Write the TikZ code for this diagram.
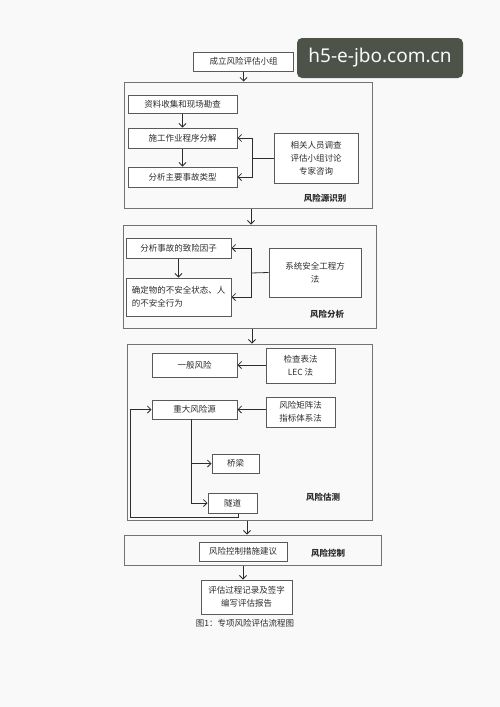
\documentclass[tikz,border=0pt]{standalone}
\usepackage{fontspec}
\setmainfont{Noto Sans CJK SC}
\newfontfamily\wmfont{Noto Sans}
\usetikzlibrary{arrows.meta, positioning, calc}
\definecolor{paper}{RGB}{249, 249, 250}
\definecolor{edge}{RGB}{90, 90, 90}
\definecolor{ink}{RGB}{45, 45, 45}
\definecolor{mark}{RGB}{78, 83, 74}
\tikzset{
    box/.style={rectangle, draw=edge, line width=1pt, fill=white, align=center, text=ink, font=\fontsize{8.5}{13}\selectfont, inner sep=2pt},
    stage/.style={rectangle, draw=edge!85, line width=1pt},
    tag/.style={font=\fontsize{8.5}{10}\selectfont\bfseries, text=ink},
    arr/.style={-{Straight Barb[length=3.5pt, width=7pt]}, line width=0.8pt, ink},
    link/.style={line width=0.8pt, ink}
}

\begin{document}
\begin{tikzpicture}[x=1pt, y=-1pt]
        \useasboundingbox[fill=paper] (0,0) rectangle (500,707);

        \node[stage, minimum width=248, minimum height=126] (riskid) at (248,145) {};
        \node[stage, minimum width=253, minimum height=103] (riskan) at (249.5,276.5) {};
        \node[stage, minimum width=245, minimum height=176] (riskes) at (249.5,432) {};
        \node[stage, minimum width=257, minimum height=30] (riskct) at (252.5,550) {};

        \node[box, minimum width=100, minimum height=19] (team) at (243.5,61.5) {成立风险评估小组};

        \node[box, minimum width=109, minimum height=18] (collect) at (182.5,104) {资料收集和现场勘查};
        \node[box, minimum width=109, minimum height=20] (split) at (182.5,138) {施工作业程序分解};
        \node[box, minimum width=109, minimum height=20] (types) at (182.5,177) {分析主要事故类型};
        \node[box, minimum width=84, minimum height=50] (survey) at (316,158) {相关人员调查\\评估小组讨论\\专家咨询};
        \node[tag] (idtag) at (325,198) {风险源识别};

        \node[box, minimum width=105, minimum height=20] (factor) at (178.5,248) {分析事故的致险因子};
        \node[box, minimum width=105, minimum height=38, align=left] (unsafe) at (178.5,297) {确定物的不安全状态、人\\的不安全行为};
        \node[box, minimum width=92, minimum height=49] (syseng) at (315,272.5) {系统安全工程方\\法};
        \node[tag] (antag) at (327,314) {风险分析};

        \node[box, minimum width=85, minimum height=24] (normal) at (194.5,365) {一般风险};
        \node[box, minimum width=69, minimum height=35] (lec) at (300.5,365.5) {检查表法\\LEC 法};
        \node[box, minimum width=85, minimum height=19] (major) at (194.5,409.5) {重大风险源};
        \node[box, minimum width=69, minimum height=30] (matrix) at (300.5,412) {风险矩阵法\\指标体系法};
        \node[box, minimum width=47, minimum height=19] (bridge) at (235.5,463.5) {桥梁};
        \node[box, minimum width=49, minimum height=20] (tunnel) at (232.5,503) {隧道};
        \node[tag] (estag) at (323,497) {风险估测};

        \node[box, minimum width=88, minimum height=19] (measure) at (243,551.5) {风险控制措施建议};
        \node[tag] (cttag) at (328,553) {风险控制};

        \node[box, minimum width=91, minimum height=34] (report) at (246.5,597) {评估过程记录及签字\\编写评估报告};
        \node[text=ink, font=\fontsize{8.5}{10}\selectfont] (caption) at (245,623) {图1：专项风险评估流程图};

        \node[rectangle, rounded corners=5pt, fill=mark, minimum width=166, minimum height=40, text=paper, font=\wmfont\fontsize{19}{22}\selectfont] (wmark) at (380,58) {h5-e-jbo.com.cn};

        \coordinate (fork1) at (252,158);
        \coordinate (fork2) at (251,273);
        \coordinate (trunk) at (191,419);

        \draw[arr] (team.south) -- (team.south |- riskid.north);
        \draw[arr] (collect) -- (split);
        \draw[arr] (split) -- (types);
        \draw[link] (survey.west) -- (fork1);
        \draw[arr] (fork1) |- (split.east);
        \draw[arr] (fork1) |- (types.east);
        \draw[arr] ([xshift=3]riskid.south) -- ([xshift=3]riskid.south |- riskan.north);

        \draw[arr] (factor) -- (factor |- unsafe.north);
        \draw[link] (syseng.west) -- (fork2);
        \draw[arr] (fork2) |- (factor.east);
        \draw[arr] (fork2) |- (unsafe.east);
        \draw[arr] ([xshift=2.5]riskan.south) -- ([xshift=2.5]riskan.south |- riskes.north);

        \draw[arr] (lec.west |- normal) -- (normal.east);
        \draw[arr] (matrix.west |- major) -- (major.east);
        \draw[arr] (trunk) |- (bridge.west);
        \draw[arr] (trunk) |- (tunnel.west);
        \draw[arr] ([xshift=5.5]tunnel.south) -- ++(0,4) -| ([xshift=-21]major.west) -- (major.west);
        \draw[arr] ([xshift=-2.5]riskes.south) -- ([xshift=-2.5]riskes.south |- riskct.north);

        \draw[arr] (measure.south |- riskct.south) -- (measure.south |- report.north);
    \end{tikzpicture}
\end{document}
